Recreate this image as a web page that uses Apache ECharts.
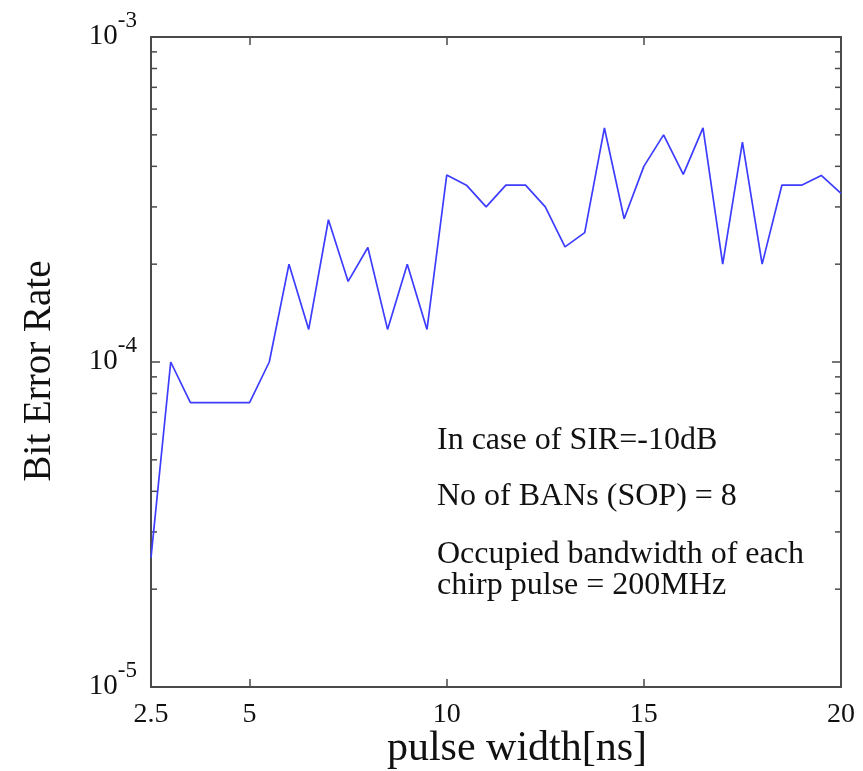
<!DOCTYPE html>
<html>
<head>
<meta charset="utf-8">
<script src="https://cdn.jsdelivr.net/npm/echarts@6/dist/echarts.min.js"></script>
<style>
  html, body { margin: 0; padding: 0; background: #ffffff; }
  #chart { width: 863px; height: 771px; }
</style>
</head>
<body>
<div id="chart"></div>
<script>
// ---- data ----
const pulseWidth = [2.5, 3, 3.5, 4, 4.5, 5, 5.5, 6, 6.5, 7, 7.5, 8, 8.5, 9, 9.5, 10,
  10.5, 11, 11.5, 12, 12.5, 13, 13.5, 14, 14.5, 15, 15.5, 16, 16.5, 17, 17.5, 18,
  18.5, 19, 19.5, 20];
const berValues = [2.5e-5, 1.0e-4, 7.5e-5, 7.5e-5, 7.5e-5, 7.5e-5, 1.0e-4, 2.0e-4, 1.26e-4, 2.74e-4,
  1.77e-4, 2.25e-4, 1.26e-4, 2.0e-4, 1.26e-4, 3.76e-4, 3.5e-4, 3.0e-4, 3.5e-4, 3.5e-4,
  3.0e-4, 2.26e-4, 2.5e-4, 5.25e-4, 2.76e-4, 4.0e-4, 5.0e-4, 3.78e-4, 5.25e-4, 2.0e-4,
  4.75e-4, 2.0e-4, 3.5e-4, 3.5e-4, 3.75e-4, 3.3e-4];
const xTickLabels = [2.5, 5, 10, 15, 20];
const xTickMarks = [5, 10, 15];
const yMinorTicks = [2e-5, 3e-5, 4e-5, 5e-5, 6e-5, 7e-5, 8e-5, 9e-5,
  2e-4, 3e-4, 4e-4, 5e-4, 6e-4, 7e-4, 8e-4, 9e-4];
const annotationLines = ['In case of SIR=-10dB', 'No of BANs (SOP) = 8',
  'Occupied bandwidth of each', 'chirp pulse = 200MHz'];
const xTitle = 'pulse width[ns]';
const yTitle = 'Bit Error Rate';

const X_MIN = 2.5, X_MAX = 20, Y_MIN = 1e-5, Y_MAX = 1e-3;
const FONT = '"Liberation Serif", "Times New Roman", serif';
const AXIS_COLOR = '#4a4a4a';

const chart = echarts.init(document.getElementById('chart'), null, { renderer: 'canvas' });

const seriesData = pulseWidth.map((x, i) => [x, berValues[i]]);

const option = {
  backgroundColor: '#ffffff',
  animation: false,
  grid: { left: 151, right: 22, top: 37, bottom: 84, containLabel: false, outerBoundsMode: 'none' },
  xAxis: [{
    type: 'value', min: X_MIN, max: X_MAX, position: 'bottom',
    axisLine: { show: true, lineStyle: { color: AXIS_COLOR, width: 2 } },
    axisTick: { show: true, inside: true, length: 8, customValues: xTickMarks,
      lineStyle: { color: AXIS_COLOR, width: 1.5 } },
    axisLabel: { show: true, customValues: xTickLabels, margin: 14,
      fontFamily: FONT, fontSize: 28, color: '#111',
      formatter: v => String(v) },
    splitLine: { show: false },
    name: xTitle, nameLocation: 'middle', nameGap: 41, nameMoveOverlap: false,
    nameTextStyle: { fontFamily: FONT, fontSize: 42, color: '#111', padding: [0, 0, 0, 42] }
  }, {
    type: 'value', min: X_MIN, max: X_MAX, position: 'top',
    axisLine: { show: true, lineStyle: { color: AXIS_COLOR, width: 2 } },
    axisTick: { show: true, inside: true, length: 8, customValues: xTickMarks,
      lineStyle: { color: AXIS_COLOR, width: 1.5 } },
    axisLabel: { show: false },
    splitLine: { show: false }
  }],
  yAxis: [{
    type: 'log', logBase: 10, min: Y_MIN, max: Y_MAX, position: 'left',
    axisLine: { show: true, lineStyle: { color: AXIS_COLOR, width: 2 } },
    axisTick: { show: true, inside: true, length: 9, lineStyle: { color: AXIS_COLOR, width: 1.5 } },
    axisLabel: {
      show: true, margin: 14, padding: [0, 0, 14, 0],
      formatter: v => '{b|10}{s|' + Math.round(Math.log10(v)) + '}',
      rich: {
        b: { fontFamily: FONT, fontSize: 29, color: '#111', verticalAlign: 'bottom' },
        s: { fontFamily: FONT, fontSize: 23, color: '#111', verticalAlign: 'bottom', padding: [0, 0, 19, 0] }
      }
    },
    splitLine: { show: false },
    name: yTitle, nameLocation: 'middle', nameGap: 92, nameRotate: 90, nameMoveOverlap: false,
    nameTextStyle: { fontFamily: FONT, fontSize: 39, color: '#111', padding: [0, 18, 0, 0] }
  }, {
    type: 'log', logBase: 10, min: Y_MIN, max: Y_MAX, position: 'right',
    axisLine: { show: true, lineStyle: { color: AXIS_COLOR, width: 2 } },
    axisTick: { show: true, inside: true, length: 9, lineStyle: { color: AXIS_COLOR, width: 1.5 } },
    axisLabel: { show: false },
    splitLine: { show: false }
  }],
  series: [{
    type: 'line',
    xAxisIndex: 0, yAxisIndex: 0,
    data: seriesData,
    showSymbol: false,
    symbol: 'none',
    lineStyle: { color: '#3d3dff', width: 1.7 },
    z: 5
  }, {
    type: 'custom',
    xAxisIndex: 0, yAxisIndex: 0,
    data: yMinorTicks.map(v => [X_MIN, v]),
    renderItem: function (params, api) {
      const v = api.value(1);
      const pl = api.coord([X_MIN, v]);
      const pr = api.coord([X_MAX, v]);
      const len = 6;
      return {
        type: 'group',
        children: [
          { type: 'line', shape: { x1: pl[0], y1: pl[1], x2: pl[0] + len, y2: pl[1] },
            style: { stroke: AXIS_COLOR, lineWidth: 1.5 } },
          { type: 'line', shape: { x1: pr[0], y1: pr[1], x2: pr[0] - len, y2: pr[1] },
            style: { stroke: AXIS_COLOR, lineWidth: 1.5 } }
        ]
      };
    },
    silent: true,
    z: 3
  }],
  graphic: annotationLines.map((t, i) => ({
    type: 'text',
    left: 437,
    top: [425, 481, 539, 570][i],
    style: { text: t, fontFamily: FONT, fontSize: 32, fill: '#111' }
  }))
};

chart.setOption(option);
</script>
</body>
</html>
